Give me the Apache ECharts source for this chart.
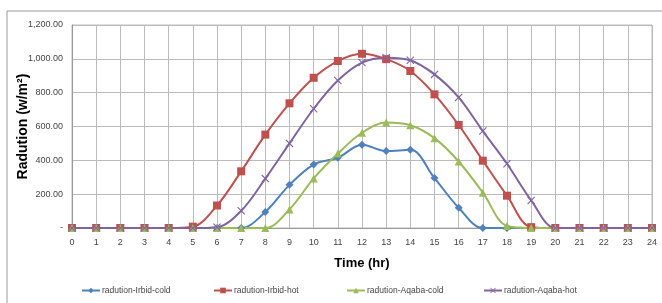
<!DOCTYPE html>
<html>
<head>
<meta charset="utf-8">
<script src="https://cdn.jsdelivr.net/npm/echarts@6/dist/echarts.min.js"></script>
<style>
  html, body { margin: 0; padding: 0; background: #fff; }
  #chart { width: 662px; height: 303px; }
</style>
</head>
<body>
<div id="chart"></div>
<script>
// hours of the day
const hours = ['0','1','2','3','4','5','6','7','8','9','10','11','12','13','14','15','16','17','18','19','20','21','22','23','24'];

// radiation values (w/m2)
const irbidCold = [0,0,0,0,0,0,0,0,95,255,375,415,492,455,462,295,120,0,0,0,0,0,0,0,0];
const irbidHot  = [0,0,0,0,0,8,133,335,552,737,888,987,1030,998,928,790,609,398,191,5,0,0,0,0,0];
const aqabaCold = [0,0,0,0,0,0,0,0,0,110,293,440,563,623,607,531,393,209,12,0,0,0,0,0,0];
const aqabaHot  = [0,0,0,0,0,0,5,102,292,500,705,872,978,1007,992,908,772,573,380,163,0,0,0,0,0];

const names = ['radution-Irbid-cold','radution-Irbid-hot','radution-Aqaba-cold','radution-Aqaba-hot'];
const colors = ['#4F81BD','#C0504D','#9BBB59','#8064A2'];
const symbols = ['diamond','rect','triangle','path://M0,1L1,0L5,4L9,0L10,1L6,5L10,9L9,10L5,6L1,10L0,9L4,5Z'];
const sizes = [8,8,8,8];
const values = [irbidCold, irbidHot, aqabaCold, aqabaHot];
const legendLeft = [76, 208, 341, 478];

const font = 'Liberation Sans';

const chart = echarts.init(document.getElementById('chart'));

const option = {
  animation: false,
  textStyle: { fontFamily: font },
  graphic: [{
    type: 'rect',
    shape: { x: 7, y: 11, width: 700, height: 320 },
    style: { fill: 'none', stroke: '#999', lineWidth: 1 },
    silent: true
  }],
  grid: {
    left: 72, right: 10, top: 25, bottom: 75,
    outerBoundsMode: 'none', containLabel: false,
    show: true, borderColor: '#bbb', borderWidth: 1
  },
  legend: names.map((n, i) => ({
    data: [n],
    left: legendLeft[i],
    top: 281,
    itemWidth: 18,
    itemHeight: 7,
    itemGap: 2,
    textStyle: { fontSize: 8.5, color: '#444', fontFamily: font, padding: [0, 0, 0, -3] }
  })),
  xAxis: {
    type: 'category',
    data: hours,
    boundaryGap: false,
    name: 'Time (hr)',
    nameLocation: 'middle',
    nameGap: 29,
    nameMoveOverlap: false,
    nameTextStyle: { fontSize: 13, fontWeight: 'bold', color: '#000', fontFamily: font },
    axisLine: { lineStyle: { color: '#999' } },
    axisTick: { show: false },
    axisLabel: { fontSize: 9, color: '#444', margin: 10, interval: 0 },
    splitLine: { show: true, lineStyle: { color: '#bbb' } }
  },
  yAxis: {
    type: 'value',
    min: 0,
    max: 1200,
    interval: 200,
    name: 'Radution (w/m²)',
    nameLocation: 'middle',
    nameGap: 42,
    nameMoveOverlap: false,
    nameTextStyle: { fontSize: 14, fontWeight: 'bold', color: '#000', fontFamily: font },
    axisLine: { show: true, lineStyle: { color: '#999' } },
    axisTick: { show: false },
    axisLabel: {
      fontSize: 9, color: '#444', margin: 9,
      formatter: v => v === 0 ? '-' : v.toLocaleString('en-US', { minimumFractionDigits: 2, maximumFractionDigits: 2 })
    },
    splitLine: { show: true, lineStyle: { color: '#bbb' } }
  },
  series: names.map((n, i) => ({
    name: n,
    type: 'line',
    data: values[i],
    smooth: 0.35,
    symbol: symbols[i],
    symbolSize: sizes[i],
    showAllSymbol: true,
    lineStyle: { color: colors[i], width: 2 },
    itemStyle: { color: colors[i] }
  }))
};

chart.setOption(option);
</script>
</body>
</html>
